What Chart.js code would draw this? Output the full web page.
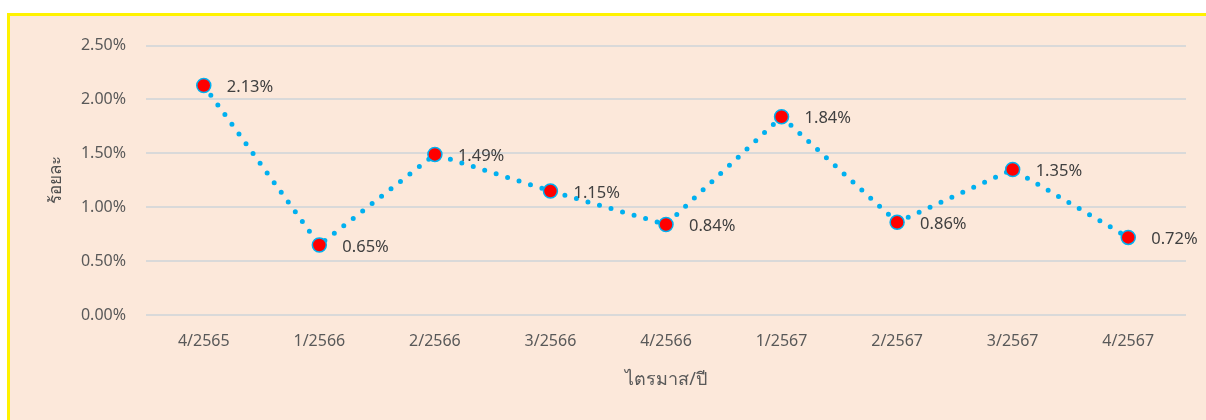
<!DOCTYPE html>
<html>
<head>
<meta charset="utf-8">
<script src="https://cdn.jsdelivr.net/npm/chart.js@4/dist/chart.umd.min.js"></script>
<style>
  html, body { margin: 0; padding: 0; background: #fff; overflow: hidden; }
  #frame {
    position: absolute; left: 7px; top: 13px;
    width: 1196px; height: 404px;
    border-top: 3px solid #FFF200; border-left: 3px solid #FFF200;
    background: #FCE8DA;
  }
</style>
</head>
<body>
<div id="frame"><canvas id="lineChart" width="1196" height="404"></canvas></div>
<script>
// quarter/year labels and rate (%)
const quarters = ['4/2565', '1/2566', '2/2566', '3/2566', '4/2566', '1/2567', '2/2567', '3/2567', '4/2567'];
const rates = [2.13, 0.65, 1.49, 1.15, 0.84, 1.84, 0.86, 1.35, 0.72];
const yTicks = [0, 0.5, 1.0, 1.5, 2.0, 2.5];

const fontFam = "'Noto Sans', 'Open Sans', 'DejaVu Sans', sans-serif";

// draw the value next to each point
const valueLabels = {
    id: 'valueLabels',
    afterDatasetsDraw(chart) {
        const ctx = chart.ctx;
        const meta = chart.getDatasetMeta(0);
        ctx.save();
        ctx.font = '16.5px ' + fontFam;
        ctx.fillStyle = '#404040';
        ctx.textAlign = 'left';
        ctx.textBaseline = 'middle';
        meta.data.forEach((pt, i) => {
            ctx.fillText(rates[i].toFixed(2) + '%', pt.x + 23, pt.y + 2);
        });
        ctx.restore();
    }
};

const ctx = document.getElementById('lineChart').getContext('2d');
const lineChart = new Chart(ctx, {
    type: 'line',
    data: {
        labels: quarters,
        datasets: [{
            data: rates,
            borderColor: '#00B0F0',
            borderWidth: 5,
            borderDash: [0, 12],
            borderCapStyle: 'round',
            fill: false,
            tension: 0,
            pointRadius: 7,
            pointBackgroundColor: '#FF0000',
            pointBorderColor: '#00B0F0',
            pointBorderWidth: 1.5
        }]
    },
    options: {
        responsive: false,
        animation: false,
        layout: { padding: { top: 25, right: 20, left: 0, bottom: 0 } },
        plugins: {
            legend: { display: false },
            tooltip: { enabled: false }
        },
        scales: {
            x: {
                offset: true,
                grid: { display: false, drawTicks: false, offset: true },
                border: { display: false },
                ticks: { color: '#595959', font: { family: fontFam, size: 16 }, padding: 17, maxRotation: 0 },
                title: {
                    display: true, text: 'ไตรมาส/ปี', color: '#595959',
                    font: { family: fontFam, size: 18 }, padding: { top: 29, bottom: 29 }
                },
                afterFit(scale) { scale.height = 105; }
            },
            y: {
                min: 0, max: 2.5,
                afterBuildTicks(scale) { scale.ticks = yTicks.map(v => ({ value: v })); },
                grid: { color: '#D9D9D9', lineWidth: 2, drawTicks: false },
                border: { display: false },
                ticks: {
                    color: '#595959', font: { family: fontFam, size: 16 }, padding: 20,
                    callback: v => v.toFixed(2) + '%'
                },
                title: {
                    display: true, text: 'ร้อยละ', color: '#505050',
                    font: { family: fontFam, size: 17 }, padding: { top: 36, bottom: 36 }
                },
                afterFit(scale) { scale.width = 136; }
            }
        }
    },
    plugins: [valueLabels]
});
</script>
</body>
</html>
